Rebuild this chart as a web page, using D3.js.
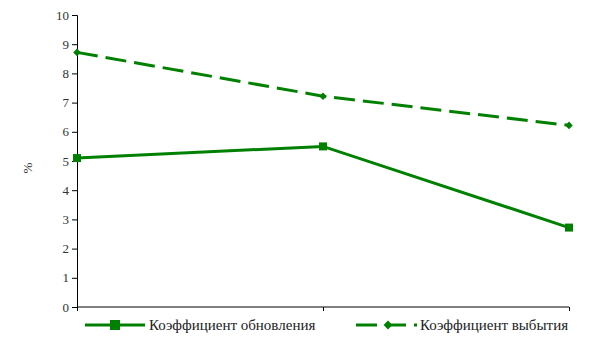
<!DOCTYPE html>
<html>
<head>
<meta charset="utf-8">
<script src="https://cdn.jsdelivr.net/npm/d3@7"></script>
<style>
	body { margin: 0; background: #fff; }
	svg text { font-family: "Liberation Serif", "Times New Roman", serif; }
</style>
</head>
<body>
<svg id="chart" width="605" height="340"></svg>
<script>
// chart data
var categories = ["1", "2", "3"];
var renewal = [5.1, 5.5, 2.72];
var retirement = [8.72, 7.22, 6.22];
var yTicks = [0, 1, 2, 3, 4, 5, 6, 7, 8, 9, 10];
var seriesNames = ["Коэффициент обновления", "Коэффициент выбытия"];

var green = "#008000";
var svg = d3.select("#chart");

var x = d3.scalePoint().domain(categories).range([77, 569]);
var y = d3.scaleLinear().domain([0, 10]).range([307, 15]);

// y axis
var yAxis = svg.append("g")
	.attr("transform", "translate(77,0)")
	.call(d3.axisLeft(y).tickValues(yTicks).tickSize(5).tickPadding(3));
yAxis.select(".domain").attr("stroke", "#000");
yAxis.selectAll("text").attr("fill", "#333").style("font-size", "13px");

// x axis, no labels
var xAxis = svg.append("g")
	.attr("transform", "translate(0,307)")
	.call(d3.axisBottom(x).tickSize(4).tickFormat(""));
xAxis.select(".domain").attr("stroke", "#000").attr("d", "M77,0H569");

svg.append("text")
	.attr("transform", "translate(32,168) rotate(-90)")
	.attr("text-anchor", "middle")
	.style("font-size", "13px")
	.attr("fill", "#333")
	.text("%");

var line = d3.line()
	.x(function(d, i) { return x(categories[i]); })
	.y(function(d) { return y(d); });

// series 1 solid with squares
svg.append("path").datum(renewal)
	.attr("d", line).attr("fill", "none")
	.attr("stroke", green).attr("stroke-width", 3);
svg.selectAll(".sq").data(renewal).enter().append("rect")
	.attr("x", function(d, i) { return x(categories[i]) - 4; })
	.attr("y", function(d) { return y(d) - 4; })
	.attr("width", 8).attr("height", 8)
	.attr("fill", green);

// series 2 dashed with diamonds
svg.append("path").datum(retirement)
	.attr("d", line).attr("fill", "none")
	.attr("stroke", green).attr("stroke-width", 3)
	.attr("stroke-dasharray", "21,8");
var diamond = d3.symbol().type(d3.symbolDiamond2);
svg.selectAll(".dm").data(retirement).enter().append("path")
	.attr("d", diamond.size(36)())
	.attr("transform", function(d, i) { return "translate(" + x(categories[i]) + "," + y(d) + ")"; })
	.attr("fill", green);

// legend
var lg = svg.append("g");
lg.append("line").attr("x1", 85).attr("x2", 145).attr("y1", 325).attr("y2", 325)
	.attr("stroke", green).attr("stroke-width", 3);
lg.append("rect").attr("x", 110).attr("y", 320).attr("width", 10).attr("height", 10).attr("fill", green);
lg.append("text").attr("x", 149).attr("y", 330).style("font-size", "15px").attr("fill", "#222").text(seriesNames[0]);

lg.append("line").attr("x1", 356).attr("x2", 417).attr("y1", 325).attr("y2", 325)
	.attr("stroke", green).attr("stroke-width", 3).attr("stroke-dasharray", "21,8");
lg.append("path").attr("d", diamond.size(50)()).attr("transform", "translate(388,325)").attr("fill", green);
lg.append("text").attr("x", 420).attr("y", 330).style("font-size", "15px").attr("fill", "#222").text(seriesNames[1]);
</script>
</body>
</html>
